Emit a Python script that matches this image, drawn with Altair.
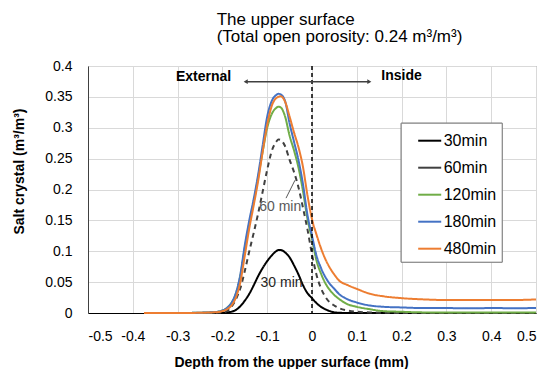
import altair as alt
import pandas as pd

# ---- data ----
depth = [-0.375, -0.3, -0.25, -0.23, -0.21, -0.2, -0.19, -0.18, -0.17, -0.16, -0.15,
         -0.14, -0.13, -0.12, -0.11, -0.1, -0.09, -0.08, -0.075, -0.07, -0.06, -0.05,
         -0.04, -0.03, -0.02, -0.01, 0.0, 0.01, 0.02, 0.03, 0.04, 0.05, 0.06, 0.08,
         0.1, 0.13, 0.16, 0.2, 0.25, 0.3, 0.35, 0.4, 0.45, 0.5]

s30 = [0, 0, 0, 0, 0, 0.0003, 0.001, 0.002, 0.005, 0.011, 0.02, 0.031, 0.045, 0.06,
       0.073, 0.084, 0.093, 0.1, 0.102, 0.102, 0.098, 0.09, 0.077, 0.062, 0.045, 0.032,
       0.024, 0.016, 0.01, 0.006, 0.003, 0.001, 0.0005, 0, 0, 0, 0, 0, 0, 0, 0, 0, 0, 0]
s60 = [0, 0, 0, 0, 0.0005, 0.001, 0.003, 0.01, 0.022, 0.04, 0.068, 0.1, 0.13, 0.162,
       0.197, 0.232, 0.262, 0.277, 0.281, 0.28, 0.27, 0.248, 0.228, 0.203, 0.17, 0.135,
       0.095, 0.062, 0.04, 0.026, 0.017, 0.012, 0.008, 0.004, 0.002, 0.001, 0.0005, 0,
       0, 0, 0, 0, 0, 0]
s120 = [0, 0, 0.0005, 0.001, 0.002, 0.004, 0.008, 0.016, 0.031, 0.06, 0.105, 0.145,
        0.18, 0.22, 0.262, 0.3, 0.322, 0.332, 0.334, 0.333, 0.318, 0.287, 0.263, 0.235,
        0.197, 0.152, 0.12, 0.085, 0.064, 0.048, 0.037, 0.029, 0.023, 0.014, 0.01,
        0.006, 0.003, 0.002, 0.001, 0.001, 0.001, 0.001, 0.001, 0.001]
s180 = [0, 0, 0.0005, 0.001, 0.002, 0.004, 0.008, 0.016, 0.032, 0.062, 0.11, 0.15,
        0.185, 0.225, 0.272, 0.318, 0.343, 0.353, 0.355, 0.354, 0.343, 0.307, 0.277,
        0.247, 0.208, 0.158, 0.125, 0.093, 0.073, 0.058, 0.047, 0.039, 0.031, 0.022,
        0.017, 0.012, 0.01, 0.009, 0.008, 0.008, 0.0075, 0.008, 0.0078, 0.008]
s480 = [0, 0, 0.0003, 0.0008, 0.0015, 0.003, 0.006, 0.012, 0.025, 0.05, 0.093, 0.137,
        0.175, 0.215, 0.262, 0.305, 0.335, 0.348, 0.35, 0.351, 0.342, 0.318, 0.292,
        0.268, 0.236, 0.19, 0.152, 0.127, 0.105, 0.087, 0.073, 0.062, 0.053, 0.045,
        0.039, 0.031, 0.027, 0.024, 0.022, 0.021, 0.021, 0.021, 0.021, 0.022]

series_names = ["30min", "60min", "120min", "180min", "480min"]
series_colors = ["#000000", "#404040", "#70AD47", "#4472C4", "#ED7D31"]
series_dashes = [[1, 0], [5, 4], [1, 0], [1, 0], [1, 0]]

x_ticks = [-0.5, -0.4, -0.3, -0.2, -0.1, 0, 0.1, 0.2, 0.3, 0.4, 0.5]
y_ticks = [0, 0.05, 0.1, 0.15, 0.2, 0.25, 0.3, 0.35, 0.4]

region_labels = ["External", "Inside"]
region_x = [-0.242, 0.2]
region_y = [0.382, 0.384]
arrow_x = [-0.148, 0.128]
arrow_y = 0.3746

curve_labels = ["60 min", "30 min"]
curve_label_x = [-0.071, -0.068]
curve_label_y = [0.172, 0.049]
leader_x = [-0.058, -0.038]
leader_y = [0.186, 0.215]

FONT = "Liberation Sans"

rows = []
for name, vals in zip(series_names, [s30, s60, s120, s180, s480]):
    for d, v in zip(depth, vals):
        rows.append({"depth": d, "value": v, "series": name})
df = pd.DataFrame(rows)

xscale = alt.Scale(domain=[-0.5, 0.5], nice=False, zero=False)
yscale = alt.Scale(domain=[0, 0.4], nice=False)

xaxis = alt.Axis(values=x_ticks, title="Depth from the upper  surface (mm)",
                 labelExpr="datum.value < 0 ? '-' + format(-datum.value, '.1~f') : format(datum.value, '.1~f')",
                 titleX=203, titleY=53.5, titleBaseline="alphabetic",
                 labelPadding=16, labelOverlap=False)
yaxis = alt.Axis(values=y_ticks, title="Salt crystal (m³/m³)", format=".2~f",
                 titleX=-69, titleY=105, titleAngle=270, titleAlign="center",
                 titleBaseline="middle", labelPadding=16, labelOverlap=False)


def X(field):
    return alt.X(field, scale=xscale, axis=xaxis)


def Y(field):
    return alt.Y(field, scale=yscale, axis=yaxis)


legend_kw = dict(
    title=None, orient="none", legendX=312.7, legendY=56.7,
    padding=5, symbolOffset=11, labelOffset=1, rowPadding=6,
    labelFontSize=16, labelFont=FONT, labelColor="#000000",
    symbolType="stroke", symbolSize=530, symbolStrokeWidth=2,
    strokeColor="#808080", fillColor="#ffffff",
    labelExpr="datum.label + '\u00a0\u00a0\u00a0\u00a0'",
)

lines = alt.Chart(df).mark_line(strokeWidth=2, interpolate="monotone").encode(
    x=X("depth:Q"),
    y=Y("value:Q"),
    color=alt.Color("series:N", scale=alt.Scale(domain=series_names, range=series_colors),
                    sort=series_names, legend=alt.Legend(**legend_kw)),
    strokeDash=alt.StrokeDash("series:N", scale=alt.Scale(domain=series_names, range=series_dashes),
                              sort=series_names, legend=alt.Legend(**legend_kw)),
    order=alt.Order("order:Q"),
).transform_calculate(
    order="indexof(['30min','60min','120min','180min','480min'], datum.series)"
)

vline = alt.Chart(pd.DataFrame({"x": [0]})).mark_rule(
    color="#000000", strokeWidth=1.5, strokeDash=[4, 3]
).encode(x=X("x:Q"))

arrow_df = pd.DataFrame({"x": arrow_x, "y": [arrow_y, arrow_y]})
arrow_line = alt.Chart(arrow_df).mark_line(color="#404040", strokeWidth=1.5).encode(
    x=X("x:Q"), y=Y("y:Q"))
arrow_heads = alt.Chart(pd.DataFrame({"x": arrow_x, "y": [arrow_y, arrow_y],
                                      "shape": ["triangle-left", "triangle-right"]})).mark_point(
    filled=True, size=22, color="#404040", opacity=1).encode(
    x=X("x:Q"), y=Y("y:Q"),
    shape=alt.Shape("shape:N", scale=None, legend=None))

region_text = alt.Chart(pd.DataFrame({"x": region_x, "y": region_y, "t": region_labels})).mark_text(
    font=FONT, fontSize=14, fontWeight="bold", color="#000000", baseline="middle").encode(
    x=X("x:Q"), y=Y("y:Q"), text="t:N")

curve_text = alt.Chart(pd.DataFrame({"x": curve_label_x, "y": curve_label_y, "t": curve_labels,
                                     "c": ["#595959", "#262626"]})).mark_text(
    font=FONT, fontSize=14, baseline="middle").encode(
    x=X("x:Q"), y=Y("y:Q"), text="t:N",
    color=alt.Color("c:N", scale=None, legend=None))

leader = alt.Chart(pd.DataFrame({"x": leader_x, "y": leader_y})).mark_line(
    color="#595959", strokeWidth=1).encode(x=X("x:Q"), y=Y("y:Q"))

chart = alt.layer(
    lines, vline, leader, curve_text, arrow_line, arrow_heads, region_text
).resolve_scale(color="independent").properties(
    width=448, height=247,
    autosize=alt.AutoSizeParams(type="none"),
    padding={"left": 80, "top": 58, "right": 1, "bottom": 56},
    title=alt.TitleParams(
        text=["The upper surface", "(Total open porosity: 0.24 m³/m³)"],
        anchor="start", frame="group", dx=128.7, offset=13, font=FONT,
        fontSize=17, fontWeight="normal", lineHeight=17, color="#000000",
    ),
).configure_view(stroke="#808080", strokeWidth=1).configure_axis(
    labelFont=FONT, labelFontSize=14, labelColor="#000000",
    titleFont=FONT, titleFontSize=14, titleFontWeight="bold", titleColor="#000000",
    grid=True, gridColor="#d9d9d9", gridWidth=1, ticks=False,
    domainColor="#404040", domainWidth=1,
).configure_axisX(domainColor="#000000").configure_axisY(labelBaseline="middle")

chart.save("out.html", embed_options={"renderer": "svg", "actions": False})
